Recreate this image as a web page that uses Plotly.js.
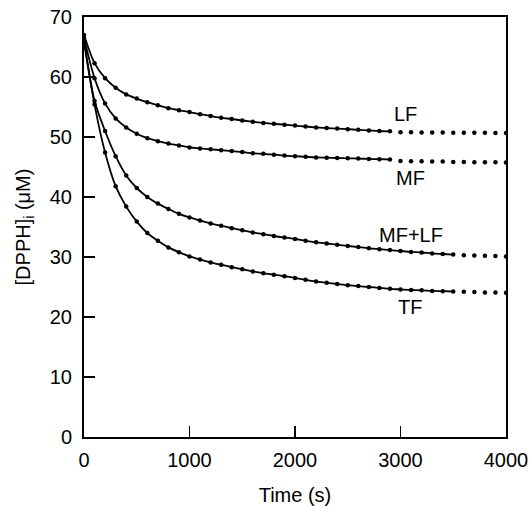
<!DOCTYPE html>
<html>
<head>
<meta charset="utf-8">
<script src="https://cdn.plot.ly/plotly-3.0.1.min.js"></script>
<style>html,body{margin:0;padding:0;background:#fff;}#chart{width:529px;height:506px;}</style>
</head>
<body>
<div id="chart"></div>
<script>
const time = [0,100,200,300,400,500,600,700,800,900,1000,1100,1200,1300,1400,1500,1600,1700,1800,1900,2000,
  2100,2200,2300,2400,2500,2600,2700,2800,2900,3000,3100,3200,3300,3400,3500,3600,3700,3800,3900,4000];
const lf = [67.0,62.3,59.8,58.2,57.1,56.4,55.8,55.3,54.8,54.45,54.15,53.8,53.5,53.2,53.0,52.75,52.55,52.35,52.2,52.05,51.9,
  51.75,51.6,51.5,51.4,51.3,51.2,51.1,51.0,50.95,50.8,50.8,50.75,50.75,50.75,50.7,50.7,50.7,50.7,50.65,50.65];
const mf = [66.5,59.8,55.6,53.1,51.6,50.55,49.8,49.3,48.9,48.6,48.25,48.1,47.95,47.8,47.65,47.5,47.3,47.2,47.05,46.9,46.8,
  46.7,46.6,46.55,46.5,46.45,46.4,46.35,46.3,46.25,46.0,45.95,45.95,45.9,45.9,45.85,45.85,45.8,45.8,45.8,45.75];
const mflf = [66.0,56.0,51.0,46.8,43.6,41.5,40.0,38.9,38.0,37.2,36.6,36.1,35.6,35.2,34.8,34.45,34.1,33.8,33.5,33.25,33.0,
  32.7,32.45,32.25,32.05,31.85,31.65,31.45,31.3,31.15,31.0,30.85,30.75,30.6,30.5,30.4,30.3,30.25,30.2,30.15,30.1];
const tf = [66.0,55.4,47.4,41.8,38.4,35.9,34.0,32.7,31.6,30.8,30.1,29.6,29.1,28.7,28.3,27.95,27.6,27.3,27.05,26.8,26.5,
  26.2,25.9,25.7,25.5,25.3,25.15,25.0,24.85,24.7,24.6,24.5,24.45,24.35,24.3,24.25,24.2,24.15,24.1,24.1,24.05];
// end of fitted (solid) range for each series, in seconds
const fitEnd = {LF: 2900, MF: 2900, "MF+LF": 3500, TF: 3500};
const seriesNames = ["LF","MF","MF+LF","TF"];
const seriesValues = [lf, mf, mflf, tf];
// label anchor positions in data units
const labelX = [3050, 3090, 3100, 3090];
const labelY = [53.8, 43.2, 33.6, 21.7];
const xTicks = [0,1000,2000,3000,4000];
const yTicks = [0,10,20,30,40,50,60,70];

const traces = [];
seriesNames.forEach((name, i) => {
  const vals = seriesValues[i];
  const lx = [], ly = [];
  time.forEach((t, k) => { if (t <= fitEnd[name]) { lx.push(t); ly.push(vals[k]); } });
  traces.push({x: lx, y: ly, mode: 'lines', line: {color: '#000', width: 1.8, shape: 'spline', smoothing: 0.8},
    hoverinfo: 'skip', showlegend: false});
  traces.push({x: time, y: vals, mode: 'markers', marker: {color: '#000', size: 4.5},
    showlegend: false, name: name});
});

const font = {family: 'Liberation Sans, Arial, sans-serif', color: '#000'};
const FS = 20;
const layout = {
  width: 529, height: 506,
  margin: {l: 84, r: 23, t: 17, b: 69},
  paper_bgcolor: '#fff', plot_bgcolor: '#fff',
  font: Object.assign({size: FS}, font),
  showlegend: false,
  xaxis: {
    range: [0, 4000], tickvals: xTicks, ticktext: xTicks.map(String),
    ticks: 'inside', ticklen: 11, tickwidth: 1.5, tickcolor: '#000',
    ticklabelstandoff: 4,
    showline: true, linewidth: 2, linecolor: '#000', mirror: true,
    showgrid: false, zeroline: false, automargin: false,
    tickfont: Object.assign({size: FS}, font),
    title: {text: 'Time (s)', font: Object.assign({size: FS}, font), standoff: 18}
  },
  yaxis: {
    range: [0, 70], tickvals: yTicks, ticktext: yTicks.map(String),
    ticks: 'inside', ticklen: 11, tickwidth: 1.5, tickcolor: '#000',
    ticklabelstandoff: 6,
    showline: true, linewidth: 2, linecolor: '#000', mirror: true,
    showgrid: false, zeroline: false, automargin: false,
    tickfont: Object.assign({size: FS}, font),
    title: {text: '[DPPH]<sub>i</sub> (μM)', font: Object.assign({size: FS}, font), standoff: 14}
  },
  annotations: seriesNames.map((name, i) => ({
    x: labelX[i], y: labelY[i], xref: 'x', yref: 'y', text: name, showarrow: false,
    font: Object.assign({size: FS}, font), xanchor: 'center', yanchor: 'middle'
  }))
};

Plotly.newPlot('chart', traces, layout, {staticPlot: true, displayModeBar: false});
</script>
</body>
</html>
